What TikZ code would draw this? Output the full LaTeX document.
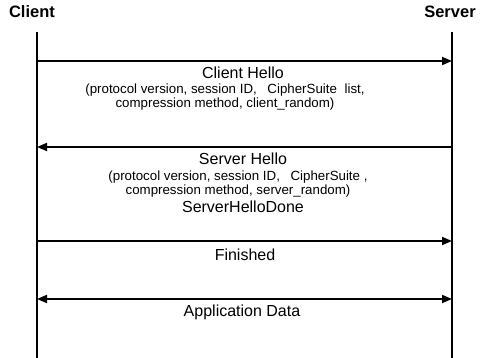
\documentclass[tikz,border=0pt]{standalone}
\usepackage{fontspec}
\setmainfont{Liberation Sans}
\usepackage{tikz}
\usetikzlibrary{
	arrows.meta,
	positioning
}

\begin{document}
\begin{tikzpicture}[x=1pt, y=-1pt,
		actor/.style={font=\fontsize{16.5}{18}\selectfont\bfseries, inner sep=0pt},
		msgtext/.style={font=\fontsize{16}{18}\selectfont, inner sep=0pt},
		params/.style={font=\fontsize{13.3}{14}\selectfont, inner sep=0pt, align=center},
		lifeline/.style={line width=2.6pt},
		msg/.style={line width=1.8pt, arrows={-Triangle[length=10pt, width=8pt]}},
		both/.style={line width=1.8pt, arrows={Triangle[length=10pt, width=8pt]-Triangle[length=10pt, width=8pt]}}]
			\useasboundingbox (0,0) rectangle (482,358);
			% participants
			\node[actor] (client) at (32,12) {Client};
			\node[actor] (server) at (450,12) {Server};
			\coordinate (client top) at (37,32);
			\coordinate (client end) at (37,358);
			\coordinate (server top) at (452,32);
			\coordinate (server end) at (452,358);
			\draw[lifeline] (client top) -- (client end);
			\draw[lifeline] (server top) -- (server end);
			% message levels
			\foreach \n/\y in {1/61, 2/147, 3/241, 4/299} {
				\coordinate (c\n) at (37,\y);
				\coordinate (s\n) at (452,\y);
			}
			\draw[msg] (c1) -- (s1);
			\draw[msg] (s2) -- (c2);
			\draw[msg] (c3) -- (s3);
			\draw[both] (c4) -- (s4);
			% labels
			\node[msgtext] (chello) at (243,73) {Client Hello};
			\node[params] (cparams) at (225,97) {(protocol version, session ID,\hspace{0.8em}CipherSuite\hspace{0.3em} list,\\compression method, client\_random)};
			\node[msgtext] (shello) at (243,159) {Server Hello};
			\node[params] (sparams) at (238,184) {(protocol version, session ID,\hspace{0.8em}CipherSuite ,\\compression method, server\_random)};
			\node[msgtext] (sdone) at (243,207) {ServerHelloDone};
			\node[msgtext] (fin) at (245,255) {Finished};
			\node[msgtext] (appdata) at (242,312) {Application Data};
		\end{tikzpicture}
\end{document}
